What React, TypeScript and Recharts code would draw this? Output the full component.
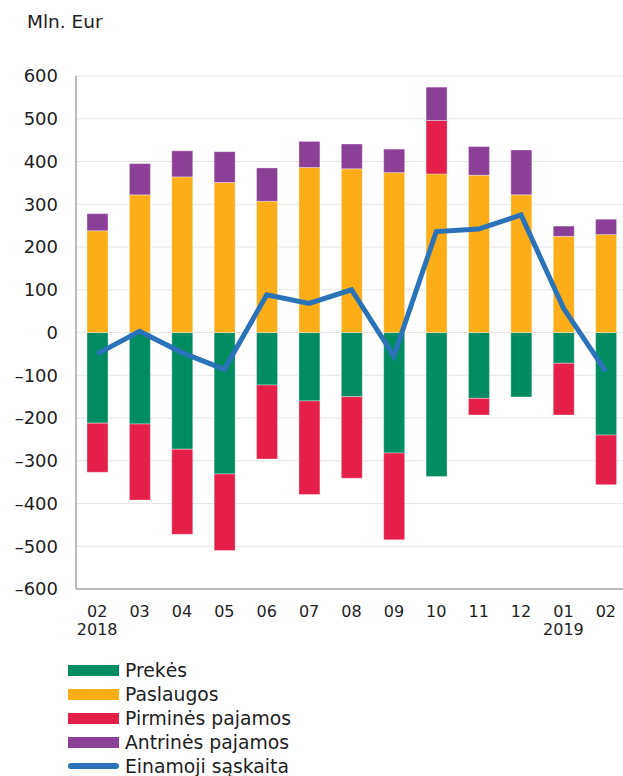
import { ComposedChart, Bar, Line, XAxis, YAxis, CartesianGrid, Legend } from "recharts";

const months = ["02", "03", "04", "05", "06", "07", "08", "09", "10", "11", "12", "01", "02"];
const years = ["2018", "", "", "", "", "", "", "", "", "", "", "2019", ""];

const prekes = [-212, -214, -273, -331, -123, -160, -150, -282, -337, -154, -151, -72, -240];
const paslaugos = [238, 322, 364, 351, 307, 386, 383, 374, 371, 368, 322, 225, 229];
const pirmines = [-115, -178, -199, -179, -173, -219, -191, -203, 125, -39, 0, -121, -116];
const antrines = [40, 73, 61, 72, 78, 61, 58, 55, 78, 67, 105, 24, 36];
const einamoji = [-50, 3, -47, -86, 88, 68, 100, -55, 236, 242, 275, 57, -91];

const yTicks = [-600, -500, -400, -300, -200, -100, 0, 100, 200, 300, 400, 500, 600];

const legendItems = [
  { name: "Prekės", color: "#008c61", line: false },
  { name: "Paslaugos", color: "#fbae17", line: false },
  { name: "Pirminės pajamos", color: "#e41f4a", line: false },
  { name: "Antrinės pajamos", color: "#8c3f97", line: false },
  { name: "Einamoji sąskaita", color: "#2a73b9", line: true },
];

const data = months.map((m, i) => ({
  label: `${m} ${years[i]}`,
  prekes: prekes[i],
  paslaugos: paslaugos[i],
  pirmines: pirmines[i],
  antrines: antrines[i],
  einamoji: einamoji[i],
}));

const font = "'DejaVu Sans', Verdana, sans-serif";
const textColor = "#1e1e1e";
const axisColor = "#a6a6a6";
const barStroke = "rgba(255,255,255,0.35)";

function MonthTick({ x, y, payload }: any) {
  const i = payload.index;
  return (
    <g>
      <text x={x} y={y + 28} textAnchor="middle" fontSize={16} fill={textColor} fontFamily={font}>
        {months[i]}
      </text>
      {years[i] && (
        <text x={x} y={y + 46} textAnchor="middle" fontSize={16} fill={textColor} fontFamily={font}>
          {years[i]}
        </text>
      )}
    </g>
  );
}

function LegendBox() {
  return (
    <div style={{ fontFamily: font, fontSize: 18.8, color: textColor }}>
      {legendItems.map((it) => (
        <div key={it.name} style={{ display: "flex", alignItems: "center", height: 23.8 }}>
          <span
            style={{
              display: "inline-block",
              width: 51,
              height: it.line ? 6 : 11,
              borderRadius: it.line ? 3 : 0,
              background: it.color,
              marginRight: 6,
            }}
          />
          <span style={{ whiteSpace: "nowrap" }}>{it.name}</span>
        </div>
      ))}
    </div>
  );
}

export default function App() {
  return (
    <div style={{ position: "absolute", left: 0, top: 0, width: 623, height: 776, overflow: "hidden", background: "#fff" }}>
      <div style={{ position: "absolute", left: 27, top: 11, fontFamily: font, fontSize: 18.5, color: textColor, lineHeight: "22px" }}>
        Mln. Eur
      </div>
      <ComposedChart
        width={627}
        height={776}
        data={data}
        stackOffset="sign"
        margin={{ top: 76, right: 0, left: 0, bottom: 147 }}
        barCategoryGap={0}
      >
        <CartesianGrid vertical={false} stroke="#e6e6e6" strokeWidth={1.2} />
        <XAxis
          dataKey="label"
          height={40}
          tickLine={false}
          tickSize={0}
          tickMargin={0}
          axisLine={{ stroke: axisColor, strokeWidth: 1.5 }}
          tick={<MonthTick />}
          interval={0}
        />
        <YAxis
          width={76}
          domain={[-600, 600]}
          ticks={yTicks}
          tickLine={false}
          tickSize={0}
          tickMargin={18}
          axisLine={{ stroke: axisColor, strokeWidth: 1.5 }}
          tick={{ fill: textColor, fontSize: 18, fontFamily: font }}
          tickFormatter={(v: number) => (v < 0 ? `\u2013${Math.abs(v)}` : `${v}`)}
        />
        <Legend
          layout="vertical"
          align="center"
          verticalAlign="middle"
          wrapperStyle={{ top: 659, left: 68, width: 320, height: 120, right: "auto", bottom: "auto" }}
          content={<LegendBox />}
        />
        <Bar dataKey="prekes" name="Prekės" stackId="a" fill="#008c61" stroke={barStroke} barSize={21} isAnimationActive={false} />
        <Bar dataKey="paslaugos" name="Paslaugos" stackId="a" fill="#fbae17" stroke={barStroke} barSize={21} isAnimationActive={false} />
        <Bar dataKey="pirmines" name="Pirminės pajamos" stackId="a" fill="#e41f4a" stroke={barStroke} barSize={21} isAnimationActive={false} />
        <Bar dataKey="antrines" name="Antrinės pajamos" stackId="a" fill="#8c3f97" stroke={barStroke} barSize={21} isAnimationActive={false} />
        <Line
          dataKey="einamoji"
          name="Einamoji sąskaita"
          type="linear"
          stroke="#2a73b9"
          strokeWidth={5}
          dot={false}
          activeDot={false}
          isAnimationActive={false}
        />
      </ComposedChart>
    </div>
  );
}
